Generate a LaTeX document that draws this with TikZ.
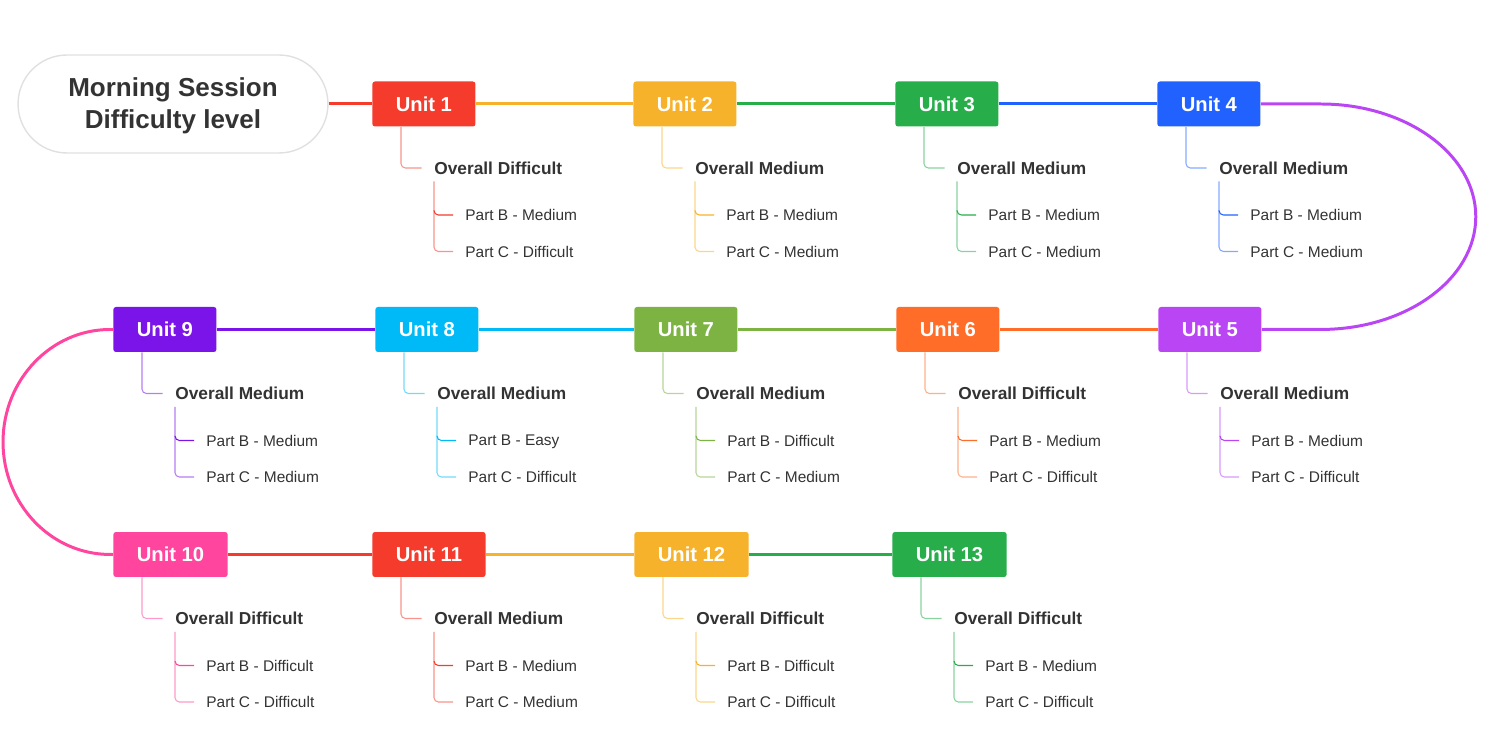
\documentclass[tikz,border=0pt]{standalone}
\usepackage{fontspec}
\setmainfont{Liberation Sans}
\usetikzlibrary{positioning}
\definecolor{ink}{HTML}{333333}
\definecolor{unitred}{HTML}{F43B2C}
\definecolor{unitamber}{HTML}{F7B22B}
\definecolor{unitgreen}{HTML}{27AE4B}
\definecolor{unitblue}{HTML}{2162FF}
\definecolor{unitviolet}{HTML}{BA45F5}
\definecolor{unitorange}{HTML}{FF6D29}
\definecolor{unitolive}{HTML}{7CB342}
\definecolor{unitcyan}{HTML}{00B9F7}
\definecolor{unitpurple}{HTML}{7A14E8}
\definecolor{unitpink}{HTML}{FF459E}
\tikzset{
	unit/.style={fill=#1,rectangle,rounded corners=1.5pt,text=white,font=\fontsize{11.5}{12}\selectfont\bfseries,inner xsep=.47cm,inner ysep=0pt,minimum height=.9cm,anchor=west},
	overall/.style={anchor=west,inner sep=0pt,text depth=0pt,text=ink,font=\fontsize{9.85}{11}\selectfont\bfseries},
	part/.style={anchor=west,inner sep=0pt,text depth=0pt,text=ink,font=\fontsize{8.8}{10}\selectfont},
	title/.style={draw=black!12,line width=.8pt,rounded corners=.98cm,minimum width=6.2cm,minimum height=1.96cm,align=center,text=ink,font=\fontsize{14.8}{18.2}\selectfont\bfseries},
	link/.style={draw=#1,line width=1.7pt},
	twig/.style={draw=#1,line width=.6pt,rounded corners=2.5pt}
}
\begin{document}
\begin{tikzpicture}[x=.02cm,y=-.02cm]
	\useasboundingbox (0,0) rectangle (1494,732);
	\node[title] (title) at (173,104) {\strut Morning Session\\Difficulty level};

	\node[unit=unitred] (u1) at (372,104) {Unit 1};
	\node[overall] (o1) at (434,168) {Overall Difficult};
	\node[part] (b1) at (465,215) {Part B - Medium};
	\node[part] (c1) at (465,251.5) {Part C - Difficult};

	\node[unit=unitamber] (u2) at (633,104) {Unit 2};
	\node[overall] (o2) at (695,168) {Overall Medium};
	\node[part] (b2) at (726,215) {Part B - Medium};
	\node[part] (c2) at (726,251.5) {Part C - Medium};

	\node[unit=unitgreen] (u3) at (895,104) {Unit 3};
	\node[overall] (o3) at (957,168) {Overall Medium};
	\node[part] (b3) at (988,215) {Part B - Medium};
	\node[part] (c3) at (988,251.5) {Part C - Medium};

	\node[unit=unitblue] (u4) at (1157,104) {Unit 4};
	\node[overall] (o4) at (1219,168) {Overall Medium};
	\node[part] (b4) at (1250,215) {Part B - Medium};
	\node[part] (c4) at (1250,251.5) {Part C - Medium};

	\node[unit=unitviolet] (u5) at (1158,329.5) {Unit 5};
	\node[overall] (o5) at (1220,393.5) {Overall Medium};
	\node[part] (b5) at (1251,440.5) {Part B - Medium};
	\node[part] (c5) at (1251,477) {Part C - Difficult};

	\node[unit=unitorange] (u6) at (896,329.5) {Unit 6};
	\node[overall] (o6) at (958,393.5) {Overall Difficult};
	\node[part] (b6) at (989,440.5) {Part B - Medium};
	\node[part] (c6) at (989,477) {Part C - Difficult};

	\node[unit=unitolive] (u7) at (634,329.5) {Unit 7};
	\node[overall] (o7) at (696,393.5) {Overall Medium};
	\node[part] (b7) at (727,440.5) {Part B - Difficult};
	\node[part] (c7) at (727,477) {Part C - Medium};

	\node[unit=unitcyan] (u8) at (375,329.5) {Unit 8};
	\node[overall] (o8) at (437,393.5) {Overall Medium};
	\node[part] (b8) at (468,440.5) {Part B - Easy};
	\node[part] (c8) at (468,477) {Part C - Difficult};

	\node[unit=unitpurple] (u9) at (113,329.5) {Unit 9};
	\node[overall] (o9) at (175,393.5) {Overall Medium};
	\node[part] (b9) at (206,440.5) {Part B - Medium};
	\node[part] (c9) at (206,477) {Part C - Medium};

	\node[unit=unitpink] (u10) at (113,554.5) {Unit 10};
	\node[overall] (o10) at (175,618.5) {Overall Difficult};
	\node[part] (b10) at (206,665.5) {Part B - Difficult};
	\node[part] (c10) at (206,702) {Part C - Difficult};

	\node[unit=unitred] (u11) at (372,554.5) {Unit 11};
	\node[overall] (o11) at (434,618.5) {Overall Medium};
	\node[part] (b11) at (465,665.5) {Part B - Medium};
	\node[part] (c11) at (465,702) {Part C - Medium};

	\node[unit=unitamber] (u12) at (634,554.5) {Unit 12};
	\node[overall] (o12) at (696,618.5) {Overall Difficult};
	\node[part] (b12) at (727,665.5) {Part B - Difficult};
	\node[part] (c12) at (727,702) {Part C - Difficult};

	\node[unit=unitgreen] (u13) at (892,554.5) {Unit 13};
	\node[overall] (o13) at (954,618.5) {Overall Difficult};
	\node[part] (b13) at (985,665.5) {Part B - Medium};
	\node[part] (c13) at (985,702) {Part C - Difficult};

	\draw[link=unitred] (title.east) -- (u1.west);
	\draw[link=unitamber] (u1.east) -- (u2.west);
	\draw[link=unitgreen] (u2.east) -- (u3.west);
	\draw[link=unitblue] (u3.east) -- (u4.west);
	\draw[link=unitviolet] (u4.east) -- ++(1.2cm,0) arc[start angle=90,end angle=-90,x radius=3.1cm,y radius=2.255cm] -- (u5.east);
	\draw[link=unitorange] (u5.west) -- (u6.east);
	\draw[link=unitolive] (u6.west) -- (u7.east);
	\draw[link=unitcyan] (u7.west) -- (u8.east);
	\draw[link=unitpurple] (u8.west) -- (u9.east);
	\draw[link=unitpink] (u9.west) -- ++(-.06cm,0) arc[start angle=90,end angle=270,x radius=2.14cm,y radius=2.25cm] -- (u10.west);
	\draw[link=unitred] (u10.east) -- (u11.west);
	\draw[link=unitamber] (u11.east) -- (u12.west);
	\draw[link=unitgreen] (u12.east) -- (u13.west);

	\foreach \n/\col in {1/unitred,2/unitamber,3/unitgreen,4/unitblue,5/unitviolet,6/unitorange,7/unitolive,8/unitcyan,9/unitpurple,10/unitpink,11/unitred,12/unitamber,13/unitgreen}{
		\draw[twig=\col!55] ([xshift=.58cm]u\n.south west) |- ([xshift=-.25cm]o\n.west);
		\draw[twig=\col!55] ([yshift=-.27cm]o\n.west) |- ([xshift=-.24cm]c\n.west);
		\draw[twig=\col] ([xshift=-.62cm,yshift=.09cm]b\n.west) |- ([xshift=-.24cm]b\n.west);
	}
\end{tikzpicture}
\end{document}
